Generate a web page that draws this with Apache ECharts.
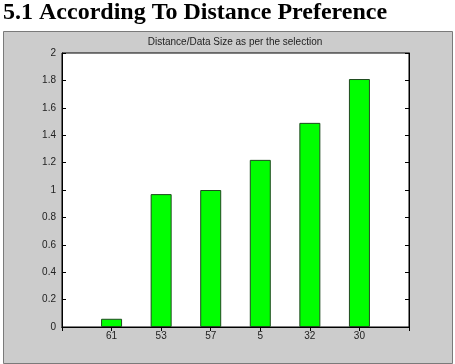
<!DOCTYPE html>
<html><head><meta charset="utf-8">
<script src="https://cdn.jsdelivr.net/npm/echarts@6/dist/echarts.min.js"></script>
<style>html,body{margin:0;padding:0;background:#fff}#c{width:455px;height:364px}</style>
</head><body><div id="c"></div>
<script>
var categories = ['61', '53', '57', '5', '32', '30'];
var values = [0.06, 0.97, 1.0, 1.22, 1.49, 1.81];
var yTicks = [0, 0.2, 0.4, 0.6, 0.8, 1, 1.2, 1.4, 1.6, 1.8, 2];
var heading = '5.1 According To Distance Preference';
var chartTitle = 'Distance/Data Size as per the selection';

var xCats = [''].concat(categories).concat(['']);
var xVals = [null].concat(values).concat([null]);

var chart = echarts.init(document.getElementById('c'));
var labelFont = {fontFamily: 'Liberation Sans, Arial, sans-serif', fontSize: 10, color: '#222'};
chart.setOption({
  animation: false,
  backgroundColor: '#fff',
  graphic: [{
    type: 'rect', left: 3, top: 31, z: -10,
    shape: {width: 449, height: 332},
    style: {fill: '#cccccc', stroke: '#7a7a7a', lineWidth: 1}
  }],
  title: [{
    text: heading, left: 3, top: 1, padding: 0,
    textStyle: {fontFamily: 'Liberation Serif, Times New Roman, serif', fontWeight: 'bold', fontSize: 24, color: '#000'}
  }, {
    text: chartTitle, left: 235, textAlign: 'center', top: 37, padding: 0,
    textStyle: {fontFamily: 'Liberation Sans, Arial, sans-serif', fontWeight: 'normal', fontSize: 10, color: '#222'}
  }],
  grid: {left: 62, top: 53, width: 347, height: 274, show: true, backgroundColor: '#fff', borderColor: '#000', borderWidth: 1},
  xAxis: [{
    type: 'category', data: xCats, boundaryGap: false, position: 'bottom',
    axisLine: {lineStyle: {color: '#000'}},
    axisTick: {inside: true, length: 4, lineStyle: {color: '#000'}},
    axisLabel: Object.assign({margin: 4, interval: 0}, labelFont),
    splitLine: {show: false}
  }, {
    type: 'category', data: xCats, boundaryGap: false, position: 'top',
    axisLine: {lineStyle: {color: '#000'}},
    axisTick: {inside: true, length: 4, lineStyle: {color: '#000'}},
    axisLabel: {show: false}, splitLine: {show: false}
  }],
  yAxis: [{
    type: 'value', min: 0, max: 2, interval: 0.2, position: 'left',
    axisLine: {show: true, lineStyle: {color: '#000'}},
    axisTick: {show: true, inside: true, length: 4, lineStyle: {color: '#000'}},
    axisLabel: Object.assign({margin: 6, formatter: function (v) { return String(+v.toFixed(1)); }}, labelFont),
    splitLine: {show: false}
  }, {
    type: 'value', min: 0, max: 2, interval: 0.2, position: 'right',
    axisLine: {show: true, lineStyle: {color: '#000'}},
    axisTick: {show: true, inside: true, length: 4, lineStyle: {color: '#000'}},
    axisLabel: {show: false}, splitLine: {show: false}
  }],
  series: [{
    type: 'bar', data: xVals, barWidth: 21, xAxisIndex: 0, yAxisIndex: 0,
    itemStyle: {color: '#00ff00', borderColor: '#1f4a1f', borderWidth: 1}
  }]
});
</script></body></html>
